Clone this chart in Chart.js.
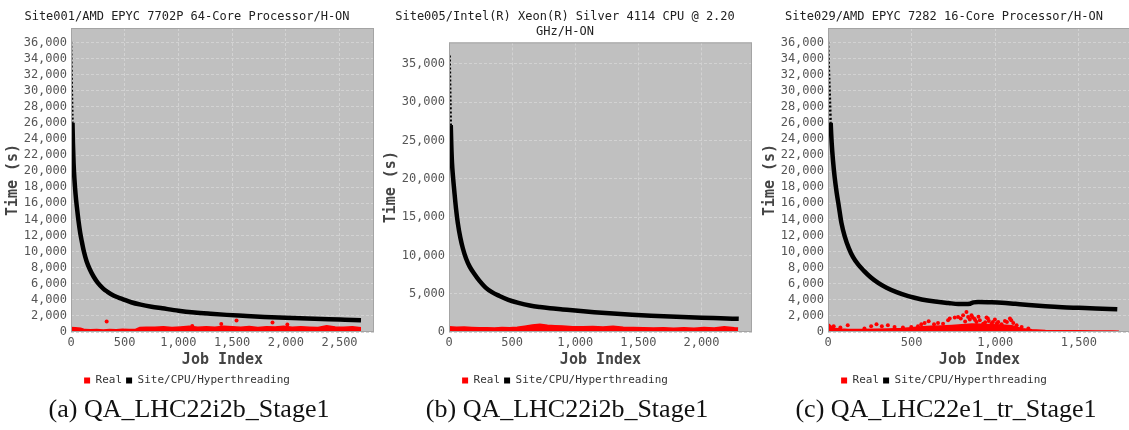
<!DOCTYPE html>
<html>
<head>
<meta charset="utf-8">
<script src="https://cdn.jsdelivr.net/npm/chart.js@4/dist/chart.umd.min.js"></script>
<style>
  body { margin: 0; width: 1129px; height: 430px; overflow: hidden; background: #fff; position: relative; }
  .box { position: absolute; top: 0; width: 378px; height: 396px; }
  .cap { position: absolute; top: 393px; width: 378px; text-align: center; font: 26px 'Liberation Serif', 'Times New Roman', serif; color: #111; line-height: 32px; }
</style>
</head>
<body>
<div class="box" style="left:0px"><canvas id="c1" width="378" height="396"></canvas></div>
<div class="box" style="left:378px"><canvas id="c2" width="378" height="396"></canvas></div>
<div class="box" style="left:757px"><canvas id="c3" width="378" height="396"></canvas></div>
<div class="cap" style="left:0px">(a) QA_LHC22i2b_Stage1</div>
<div class="cap" style="left:378px">(b) QA_LHC22i2b_Stage1</div>
<div class="cap" style="left:757px">(c) QA_LHC22e1_tr_Stage1</div>
<script>
// (a) Site001 - job index / site-cpu-ht mean time
const jobA = [0, 3, 6, 10, 14, 18, 24, 32, 42, 55, 70, 85, 100, 120, 145, 175, 210, 250, 300, 340, 400, 480, 560, 650, 750, 850, 1000, 1150, 1300, 1450, 1600, 1800, 2000, 2200, 2400, 2550, 2700]
const simA = [36100, 34000, 31500, 28500, 26000, 23500, 21000, 19000, 17200, 15500, 13800, 12400, 11300, 10000, 8800, 7800, 6900, 6100, 5400, 5000, 4500, 4100, 3700, 3400, 3150, 2950, 2650, 2430, 2270, 2130, 2020, 1880, 1760, 1680, 1600, 1530, 1460]
const realXA = [0, 40, 90, 130, 180, 240, 300, 360, 420, 480, 540, 600, 640, 700, 780, 860, 940, 1020, 1100, 1180, 1260, 1340, 1420, 1500, 1580, 1660, 1740, 1820, 1900, 1980, 2060, 2140, 2220, 2300, 2380, 2460, 2540, 2620, 2700]
const realA = [560, 520, 480, 300, 280, 320, 260, 300, 280, 340, 300, 320, 560, 600, 580, 640, 560, 620, 700, 600, 640, 580, 720, 650, 600, 680, 560, 640, 620, 700, 580, 640, 600, 560, 780, 620, 580, 640, 520]
const outXA = [332, 1129, 1399, 1541, 1876, 2014]
const outA = [1300, 750, 1000, 1420, 1170, 920]
const xTicksA = [0, 500, 1000, 1500, 2000, 2500]
const yTicksA = [0, 2000, 4000, 6000, 8000, 10000, 12000, 14000, 16000, 18000, 20000, 22000, 24000, 26000, 28000, 30000, 32000, 34000, 36000]

// (b) Site005
const jobB = [5, 8, 11, 14, 18, 24, 32, 42, 55, 70, 90, 110, 135, 165, 200, 240, 290, 340, 400, 470, 550, 640, 720, 800, 900, 1000, 1150, 1300, 1450, 1600, 1800, 2000, 2150, 2295]
const simB = [36100, 33000, 30000, 27000, 24500, 22000, 20200, 18400, 16200, 14200, 12300, 10900, 9600, 8500, 7600, 6700, 5800, 5200, 4700, 4200, 3800, 3450, 3250, 3100, 2950, 2800, 2580, 2400, 2250, 2120, 1980, 1860, 1790, 1720]
const realXB = [0, 60, 120, 180, 240, 300, 360, 420, 480, 540, 600, 660, 720, 780, 840, 900, 980, 1060, 1140, 1220, 1300, 1380, 1460, 1540, 1620, 1700, 1780, 1860, 1940, 2020, 2100, 2180, 2260, 2290]
const realB = [700, 620, 660, 600, 540, 560, 520, 580, 540, 620, 760, 900, 1000, 880, 820, 780, 700, 680, 720, 640, 760, 620, 600, 560, 520, 540, 500, 560, 480, 600, 520, 700, 560, 520]
const outXB = []
const outB = []
const xTicksB = [0, 500, 1000, 1500, 2000]
const yTicksB = [0, 5000, 10000, 15000, 20000, 25000, 30000, 35000]

// (c) Site029
const jobC = [0, 4, 8, 12, 16, 22, 30, 40, 52, 65, 80, 100, 125, 150, 180, 215, 255, 300, 350, 410, 480, 560, 640, 720, 780, 820, 850, 870, 900, 960, 1040, 1120, 1200, 1300, 1400, 1500, 1600, 1730]
const simC = [36100, 33500, 31000, 28500, 26000, 23500, 21300, 19200, 17300, 15600, 13600, 11900, 10400, 9300, 8400, 7600, 6800, 6100, 5500, 4950, 4450, 4050, 3780, 3600, 3480, 3470, 3520, 3680, 3720, 3700, 3650, 3500, 3350, 3200, 3080, 3000, 2920, 2820]
const realXC = [0, 20, 40, 80, 120, 200, 280, 360, 440, 500, 560, 620, 680, 740, 800, 860, 920, 980, 1040, 1100, 1160, 1220, 1300, 1400, 1500, 1600, 1700, 1740]
const realC = [1050, 700, 420, 360, 320, 300, 340, 380, 420, 520, 640, 700, 760, 820, 900, 1000, 950, 900, 860, 780, 420, 280, 200, 160, 150, 130, 120, 100]
const outXC = [34, 74, 118, 218, 258, 290, 322, 358, 398, 448, 498, 538, 558, 578, 602, 634, 658, 688, 718, 728, 758, 778, 794, 808, 828, 838, 848, 858, 874, 888, 908, 928, 948, 962, 978, 998, 1018, 1038, 1058, 1088, 1108, 1128, 1158, 1198, 862, 956, 986, 1096, 820, 900, 940, 1010, 1070, 880]
const outC = [710, 545, 830, 420, 710, 960, 710, 830, 620, 545, 620, 710, 960, 1120, 1330, 960, 1120, 1040, 1460, 1670, 1790, 1870, 1670, 2080, 2490, 1870, 1540, 2080, 1670, 1250, 1460, 1040, 1790, 1370, 1040, 1540, 1250, 960, 1370, 1670, 1120, 830, 620, 420, 1870, 1670, 1250, 1460, 1300, 1900, 1200, 1100, 1250, 1500]
const xTicksC = [0, 500, 1000, 1500]
const yTicksC = [0, 2000, 4000, 6000, 8000, 10000, 12000, 14000, 16000, 18000, 20000, 22000, 24000, 26000, 28000, 30000, 32000, 34000, 36000]

const mono = "'DejaVu Sans Mono', monospace"

const pts = (xs, ys) => xs.map((x, i) => ({ x: x, y: ys[i] }))

// grey plot area + frame
const plotBg = {
    id: 'plotBg',
    beforeDraw(chart) {
        const a = chart.chartArea, ctx = chart.ctx
        ctx.save()
        ctx.fillStyle = '#c0c0c0'
        ctx.fillRect(a.left, a.top, a.right - a.left, a.bottom - a.top)
        ctx.restore()
    },
    afterDraw(chart) {
        const a = chart.chartArea, ctx = chart.ctx
        ctx.save()
        ctx.strokeStyle = '#a4a4a4'
        ctx.lineWidth = 1
        ctx.strokeRect(a.left + 0.5, a.top + 0.5, a.right - a.left - 1, a.bottom - a.top - 1)
        ctx.restore()
    }
}

function makeChart(id, title, xs, sim, rx, real, ox, oy, xMax, xTicks, yTicks) {
    const dataset = [
        {
            label: 'Real', data: pts(rx, real), borderColor: '#ff0000', backgroundColor: '#ff0000',
            fill: 'origin', borderWidth: 1.5, pointRadius: 0, order: 2
        },
        {
            label: 'Real pts', data: pts(ox, oy), showLine: false, backgroundColor: '#ff0000',
            borderColor: '#ff0000', borderWidth: 0, pointRadius: 2, order: 1
        },
        {
            label: 'Site/CPU/Hyperthreading', data: pts(xs, sim), borderColor: '#000', backgroundColor: '#000',
            borderWidth: 4.5, pointRadius: 0, cubicInterpolationMode: 'monotone', order: 0,
            // first jobs are sparse dots in the original
            segment: {
                borderDash: c => c.p1.parsed.x <= 16 ? [2, 2] : undefined,
                borderWidth: c => c.p1.parsed.x <= 16 ? 2.5 : undefined
            }
        }
    ]

    const config = {
        type: 'line',
        data: { datasets: dataset },
        options: {
            responsive: false,
            animation: false,
            events: [],
            layout: { padding: { left: 0, right: 4, top: 0, bottom: 0 } },
            plugins: {
                title: {
                    display: true, text: title, color: '#222',
                    font: { family: mono, size: 12, weight: 'normal', lineHeight: 1.2 },
                    padding: { top: 10, bottom: 3.6 }
                },
                legend: {
                    position: 'bottom',
                    labels: {
                        boxWidth: 6, boxHeight: 6, padding: 4, color: '#333',
                        font: { family: mono, size: 11 },
                        generateLabels: () => [
                            { text: 'Real', fillStyle: '#ff0000', strokeStyle: '#ff0000', lineWidth: 0, hidden: false, datasetIndex: 0, fontColor: '#333' },
                            { text: 'Site/CPU/Hyperthreading', fillStyle: '#000', strokeStyle: '#000', lineWidth: 0, hidden: false, datasetIndex: 2, fontColor: '#333' }
                        ]
                    }
                },
                tooltip: { enabled: false }
            },
            scales: {
                x: {
                    type: 'linear', min: 0, max: xMax,
                    ticks: { autoSkip: false, padding: 4, color: '#555', font: { family: mono, size: 12 }, maxRotation: 0, callback: v => v.toLocaleString('en-US') },
                    afterBuildTicks: s => { s.ticks = xTicks.map(v => ({ value: v })) },
                    afterFit: s => { s.height = 39 },
                    grid: { color: '#d2d2d2', drawTicks: false },
                    border: { display: false, dash: [3, 2] },
                    title: { display: true, text: 'Job Index', color: '#444', font: { family: mono, size: 15, weight: 'bold' }, padding: { top: 0, bottom: 2 } }
                },
                y: {
                    min: 0, max: 37800,
                    ticks: { autoSkip: false, padding: 4, color: '#555', font: { family: mono, size: 12 }, callback: v => v.toLocaleString('en-US') },
                    afterBuildTicks: s => { s.ticks = yTicks.map(v => ({ value: v })) },
                    afterFit: s => { s.width = 71 },
                    grid: { color: '#d2d2d2', drawTicks: false },
                    border: { display: false, dash: [3, 2] },
                    title: { display: true, text: 'Time (s)', color: '#444', font: { family: mono, size: 15, weight: 'bold' }, padding: { top: 4, bottom: 0 } }
                }
            }
        },
        plugins: [plotBg]
    }

    new Chart(document.getElementById(id), config)
}

makeChart('c1', 'Site001/AMD EPYC 7702P 64-Core Processor/H-ON', jobA, simA, realXA, realA, outXA, outA, 2821, xTicksA, yTicksA)
makeChart('c2', ['Site005/Intel(R) Xeon(R) Silver 4114 CPU @ 2.20', 'GHz/H-ON'], jobB, simB, realXB, realB, outXB, outB, 2400, xTicksB, yTicksB)
makeChart('c3', 'Site029/AMD EPYC 7282 16-Core Processor/H-ON', jobC, simC, realXC, realC, outXC, outC, 1812, xTicksC, yTicksC)
</script>
</body>
</html>
